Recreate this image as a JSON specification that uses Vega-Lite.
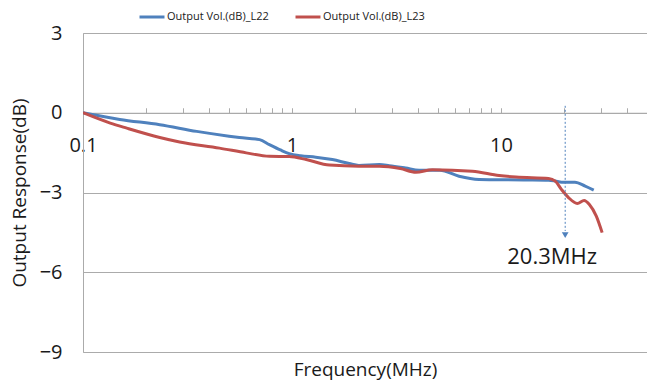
{
  "$schema": "https://vega.github.io/schema/vega-lite/v6.json",
  "autosize": {"type": "none"},
  "padding": {"left": 83, "top": 33, "right": 0, "bottom": 30},
  "width": 564,
  "height": 319,
  "background": "white",
  "config": {
    "view": {"stroke": null},
    "font": "Open Sans",
    "axis": {"labelFont": "Open Sans", "titleFont": "Open Sans", "labelColor": "#1a1a1a", "titleColor": "#1a1a1a", "titleFontWeight": "normal", "domainColor": "#ababab", "tickColor": "#ababab", "gridColor": "#ababab"}
  },
  "datasets": {
    "curves": [
      {"series": "Output Vol.(dB)_L22", "f": 0.1, "v": 0},
      {"series": "Output Vol.(dB)_L22", "f": 0.15, "v": -0.25},
      {"series": "Output Vol.(dB)_L22", "f": 0.233, "v": -0.45},
      {"series": "Output Vol.(dB)_L22", "f": 0.35, "v": -0.7},
      {"series": "Output Vol.(dB)_L22", "f": 0.5, "v": -0.88},
      {"series": "Output Vol.(dB)_L22", "f": 0.56, "v": -0.93},
      {"series": "Output Vol.(dB)_L22", "f": 0.7, "v": -1.01},
      {"series": "Output Vol.(dB)_L22", "f": 0.78, "v": -1.2},
      {"series": "Output Vol.(dB)_L22", "f": 0.88, "v": -1.4},
      {"series": "Output Vol.(dB)_L22", "f": 0.97, "v": -1.54},
      {"series": "Output Vol.(dB)_L22", "f": 1.1, "v": -1.62},
      {"series": "Output Vol.(dB)_L22", "f": 1.3, "v": -1.67},
      {"series": "Output Vol.(dB)_L22", "f": 1.56, "v": -1.76},
      {"series": "Output Vol.(dB)_L22", "f": 1.88, "v": -1.91},
      {"series": "Output Vol.(dB)_L22", "f": 2.09, "v": -1.98},
      {"series": "Output Vol.(dB)_L22", "f": 2.62, "v": -1.95},
      {"series": "Output Vol.(dB)_L22", "f": 2.92, "v": -1.99},
      {"series": "Output Vol.(dB)_L22", "f": 3.5, "v": -2.08},
      {"series": "Output Vol.(dB)_L22", "f": 4.06, "v": -2.16},
      {"series": "Output Vol.(dB)_L22", "f": 5.1, "v": -2.16},
      {"series": "Output Vol.(dB)_L22", "f": 6.3, "v": -2.39},
      {"series": "Output Vol.(dB)_L22", "f": 7.86, "v": -2.51},
      {"series": "Output Vol.(dB)_L22", "f": 10, "v": -2.52},
      {"series": "Output Vol.(dB)_L22", "f": 13, "v": -2.53},
      {"series": "Output Vol.(dB)_L22", "f": 16.9, "v": -2.54},
      {"series": "Output Vol.(dB)_L22", "f": 18.2, "v": -2.57},
      {"series": "Output Vol.(dB)_L22", "f": 19.5, "v": -2.61},
      {"series": "Output Vol.(dB)_L22", "f": 22.6, "v": -2.61},
      {"series": "Output Vol.(dB)_L22", "f": 25.3, "v": -2.76},
      {"series": "Output Vol.(dB)_L22", "f": 27.8, "v": -2.91},
      {"series": "Output Vol.(dB)_L23", "f": 0.1, "v": 0},
      {"series": "Output Vol.(dB)_L23", "f": 0.135, "v": -0.39},
      {"series": "Output Vol.(dB)_L23", "f": 0.162, "v": -0.58},
      {"series": "Output Vol.(dB)_L23", "f": 0.233, "v": -0.93},
      {"series": "Output Vol.(dB)_L23", "f": 0.29, "v": -1.1},
      {"series": "Output Vol.(dB)_L23", "f": 0.45, "v": -1.33},
      {"series": "Output Vol.(dB)_L23", "f": 0.604, "v": -1.51},
      {"series": "Output Vol.(dB)_L23", "f": 0.78, "v": -1.64},
      {"series": "Output Vol.(dB)_L23", "f": 0.97, "v": -1.65},
      {"series": "Output Vol.(dB)_L23", "f": 1.17, "v": -1.76},
      {"series": "Output Vol.(dB)_L23", "f": 1.51, "v": -1.97},
      {"series": "Output Vol.(dB)_L23", "f": 2.09, "v": -2.01},
      {"series": "Output Vol.(dB)_L23", "f": 2.62, "v": -2.01},
      {"series": "Output Vol.(dB)_L23", "f": 3.3, "v": -2.1},
      {"series": "Output Vol.(dB)_L23", "f": 3.92, "v": -2.24},
      {"series": "Output Vol.(dB)_L23", "f": 4.7, "v": -2.14},
      {"series": "Output Vol.(dB)_L23", "f": 7.3, "v": -2.2},
      {"series": "Output Vol.(dB)_L23", "f": 9.8, "v": -2.36},
      {"series": "Output Vol.(dB)_L23", "f": 11.8, "v": -2.42},
      {"series": "Output Vol.(dB)_L23", "f": 16.9, "v": -2.47},
      {"series": "Output Vol.(dB)_L23", "f": 18.2, "v": -2.57},
      {"series": "Output Vol.(dB)_L23", "f": 19.5, "v": -2.89},
      {"series": "Output Vol.(dB)_L23", "f": 21.1, "v": -3.2},
      {"series": "Output Vol.(dB)_L23", "f": 23.2, "v": -3.41},
      {"series": "Output Vol.(dB)_L23", "f": 25.0, "v": -3.3},
      {"series": "Output Vol.(dB)_L23", "f": 26.5, "v": -3.45},
      {"series": "Output Vol.(dB)_L23", "f": 28.6, "v": -3.89},
      {"series": "Output Vol.(dB)_L23", "f": 30.5, "v": -4.51}
    ],
    "marker": [
      {"f": 20.3, "top": 0.26, "bottom": -4.45, "tip": -4.6, "labelY": -5.44, "label": "20.3MHz"}
    ]
  },
  "layer": [
    {
      "data": {"name": "curves"},
      "mark": {"type": "line", "interpolate": "monotone", "strokeWidth": 3, "clip": true},
      "encoding": {
        "x": {
          "field": "f", "type": "quantitative",
          "scale": {"type": "log", "domain": [0.1, 50], "nice": false},
          "axis": {
            "title": "Frequency(MHz)",
            "titleFontSize": 19,
            "titleY": 257,
            "titleBaseline": "middle",
            "offset": -239.25,
            "values": [0.1, 0.2, 0.3, 0.4, 0.5, 0.6, 0.7, 0.8, 0.9, 1, 2, 3, 4, 5, 6, 7, 8, 9, 10, 20, 30, 40, 50],
            "labelExpr": "datum.value == 0.1 ? '0.1' : (datum.value == 1 ? '1' : (datum.value == 10 ? '10' : ''))",
            "labelFontSize": 20,
            "labelFlush": false,
            "labelOverlap": false,
            "tickSize": -5,
            "labelPadding": 28,
            "grid": false
          }
        },
        "y": {
          "field": "v", "type": "quantitative",
          "scale": {"domain": [-9, 3], "nice": false},
          "axis": {
            "title": "Output Response(dB)",
            "titleFontSize": 19,
            "titlePadding": 10,
            "values": [-9, -7.5, -6, -4.5, -3, -1.5, 0, 1.5, 3],
            "labelExpr": "datum.value % 3 === 0 ? format(datum.value, 'd') : ''",
            "labelFontSize": 20,
            "tickSize": -4,
            "labelPadding": 25,
            "grid": true,
            "gridOpacity": {"condition": {"test": "datum.value % 3 !== 0", "value": 0}, "value": 1}
          }
        },
        "color": {
          "field": "series", "type": "nominal",
          "scale": {"domain": ["Output Vol.(dB)_L22", "Output Vol.(dB)_L23"], "range": ["#4F81BD", "#C0504D"]},
          "legend": {
            "title": null,
            "orient": "none",
            "direction": "horizontal",
            "legendX": 55,
            "legendY": -30,
            "symbolType": "stroke",
            "symbolStrokeWidth": 3,
            "symbolSize": 625,
            "labelFont": "Open Sans",
            "labelFontSize": 11,
            "labelColor": "#1a1a1a",
            "labelOffset": 1,
            "columnPadding": 20
          }
        }
      }
    },
    {
      "data": {"name": "marker"},
      "mark": {"type": "rule", "color": "#4F81BD", "strokeWidth": 1, "strokeDash": [2, 2]},
      "encoding": {
        "x": {"field": "f", "type": "quantitative"},
        "y": {"field": "top", "type": "quantitative"},
        "y2": {"field": "bottom"}
      }
    },
    {
      "data": {"name": "marker"},
      "mark": {"type": "point", "shape": "triangle-down", "filled": true, "color": "#4F81BD", "size": 45, "opacity": 1},
      "encoding": {
        "x": {"field": "f", "type": "quantitative"},
        "y": {"field": "tip", "type": "quantitative"}
      }
    },
    {
      "data": {"name": "marker"},
      "mark": {"type": "text", "fontSize": 22, "font": "Open Sans", "color": "#1a1a1a", "dx": -13, "baseline": "middle", "align": "center"},
      "encoding": {
        "x": {"field": "f", "type": "quantitative"},
        "y": {"field": "labelY", "type": "quantitative"},
        "text": {"field": "label"}
      }
    }
  ]
}
